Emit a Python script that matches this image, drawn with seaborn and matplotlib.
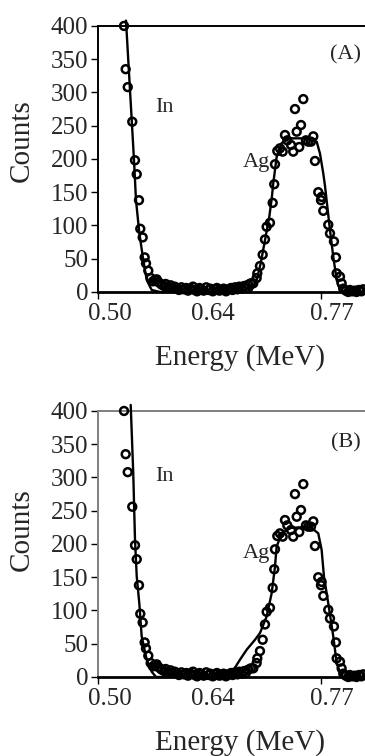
import numpy as np
import seaborn as sns
import matplotlib.pyplot as plt
from matplotlib.ticker import FixedLocator

sns.set_style('white')
plt.rcParams['font.family'] = ['Liberation Serif', 'DejaVu Serif']

# measured spectrum (same points in both panels): energy (MeV) and counts
in_energy = [0.5315, 0.5335, 0.5360, 0.5415, 0.5448, 0.5469, 0.5496, 0.5512,
             0.5541, 0.5565, 0.5581, 0.5609, 0.5638, 0.5665, 0.5690, 0.5711]
in_counts = [400, 335, 308, 256, 198, 177, 138, 95, 82, 52, 43, 32, 21, 16, 18, 19]

floor_energy = [0.574, 0.577, 0.580, 0.582, 0.585, 0.588, 0.590, 0.593, 0.596,
                0.598, 0.601, 0.604, 0.607, 0.609, 0.612, 0.615, 0.617, 0.620,
                0.623, 0.625, 0.628, 0.631, 0.634, 0.636, 0.639, 0.642, 0.644,
                0.647, 0.650, 0.652, 0.655, 0.658, 0.661, 0.663, 0.666, 0.669,
                0.671, 0.674, 0.677, 0.679, 0.682, 0.685, 0.688]
floor_counts = [14, 11, 9, 12, 7, 10, 6, 8, 5, 3, 7, 4, 6, 2, 5, 8, 3, 1, 6, 4,
                2, 7, 3, 5, 1, 4, 6, 2, 3, 5, 1, 4, 6, 3, 7, 4, 8, 5, 9, 6, 11, 13, 13]

ag_energy = [0.6921, 0.6929, 0.6961, 0.6994, 0.7022, 0.7042, 0.7082, 0.7115,
             0.7134, 0.7143, 0.7171, 0.7203, 0.7236, 0.7264, 0.7292, 0.7337,
             0.7364, 0.7385, 0.7406, 0.7437, 0.7458, 0.7486, 0.7518, 0.7546,
             0.7579, 0.7607, 0.7627, 0.7667, 0.7700, 0.7708, 0.7728, 0.7788,
             0.7809, 0.7857, 0.7881, 0.7890, 0.7930, 0.7950, 0.7970, 0.8000,
             0.8030, 0.8050, 0.8080, 0.8110, 0.8130, 0.8160, 0.8190, 0.8210]
ag_counts = [21, 28, 39, 56, 79, 98, 104, 134, 162, 192, 212, 216, 211, 236, 228,
             221, 211, 275, 241, 218, 251, 290, 228, 226, 226, 234, 197, 150, 138,
             143, 122, 101, 88, 76, 52, 28, 23, 13, 5, 2, 0, 3, 1, 2, 0, 3, 1, 4]

# simulated fits
fit_a_energy = [0.5339, 0.5408, 0.5436, 0.5460, 0.5500, 0.5548, 0.5590, 0.5650,
                0.5750, 0.6830, 0.6861, 0.6921, 0.6970, 0.7022, 0.7074, 0.7103,
                0.7122, 0.7163, 0.7224, 0.7324, 0.7527, 0.7648, 0.7688, 0.7728,
                0.7748, 0.7809, 0.7849, 0.7890, 0.7930, 0.7990, 0.8233]
fit_a_counts = [408, 259, 198, 138, 89, 48, 18, 3, 0, 0, 3, 18, 43, 78, 113, 140,
                163, 203, 224, 231, 231, 226, 208, 178, 160, 93, 53, 18, 3, 0, 0]

fit_b_energy = [0.5396, 0.5427, 0.5448, 0.5469, 0.5500, 0.5529, 0.5590, 0.5650,
                0.5702, 0.6610, 0.6638, 0.6719, 0.6800, 0.6901, 0.6961, 0.7042,
                0.7103, 0.7143, 0.7163, 0.7224, 0.7324, 0.7567, 0.7667, 0.7708,
                0.7736, 0.7788, 0.7849, 0.7890, 0.7950, 0.8233]
fit_b_counts = [409, 306, 206, 151, 111, 61, 26, 8, 0, 0, 10, 26, 41, 56, 66, 91,
                126, 166, 196, 216, 224, 226, 216, 191, 151, 111, 61, 21, 0, 0]

panel_tags = ['(A)', '(B)']
in_label_y = [277, 301]
ag_label_y = [195, 186]
tag_y = [356, 352]
y_ticks = [0, 50, 100, 150, 200, 250, 300, 350, 400]
x_tick_pos = [0.5145, 0.6392, 0.7833]
x_tick_labels = ['0.50', '0.64', '0.77']
x_tick_marks = [0.50, 0.77]

data_energy = in_energy + floor_energy + ag_energy
data_counts = in_counts + floor_counts + ag_counts

fig = plt.figure(figsize=(3.65, 7.56), dpi=100)
ax_a = fig.add_axes([0.2685, 0.6138, 0.7315, 0.3519])
ax_b = fig.add_axes([0.2685, 0.1045, 0.7315, 0.3519])

fits = [(fit_a_energy, fit_a_counts), (fit_b_energy, fit_b_counts)]
frame_cols = ['black', '#7f7f7f']
ylabel_y = [0.568, 0.553]

for i, ax in enumerate([ax_a, ax_b]):
    fe, fc = fits[i]
    sns.lineplot(x=fe, y=fc, ax=ax, color='black', lw=1.7, sort=False,
                 estimator=None, clip_on=False, zorder=3)
    ax.scatter(data_energy, data_counts, s=32, facecolors='none',
               edgecolors='black', linewidths=1.8, clip_on=False, zorder=4)

    ax.set_xlim(0.50, 0.8233)
    ax.set_ylim(0, 400)
    ax.set_yticks(y_ticks)
    ax.xaxis.set_major_locator(FixedLocator(x_tick_pos))
    ax.set_xticklabels(x_tick_labels)
    ax.xaxis.set_minor_locator(FixedLocator(x_tick_marks))
    ax.tick_params(axis='x', which='major', length=0, pad=8, labelsize=18)
    ax.tick_params(axis='x', which='minor', length=5, width=1, direction='out',
                   color='black', bottom=True)
    ax.tick_params(axis='y', length=5, width=1, direction='out', left=True,
                   pad=2, labelsize=18, color='black')

    ax.spines['right'].set_visible(False)
    for side in ['left', 'top']:
        ax.spines[side].set_color(frame_cols[i])
        ax.spines[side].set_linewidth(1.4)
    ax.spines['bottom'].set_color('black')
    ax.spines['bottom'].set_linewidth(2)

    ax.set_ylabel('')
    ax.text(-0.285, ylabel_y[i], 'Counts', transform=ax.transAxes, rotation=90,
            ha='center', va='center', fontsize=21)
    ax.text(0.532, -0.245, 'Energy (MeV)', transform=ax.transAxes,
            ha='center', va='center', fontsize=21)

    ax.text(0.5811, in_label_y[i], 'In', fontsize=16, ha='center', va='center')
    ax.text(0.7082, ag_label_y[i], 'Ag', fontsize=16, ha='right', va='center')
    ax.text(0.8002, tag_y[i], panel_tags[i], fontsize=16, ha='center', va='center')

fig.savefig('out.png', dpi=100)
